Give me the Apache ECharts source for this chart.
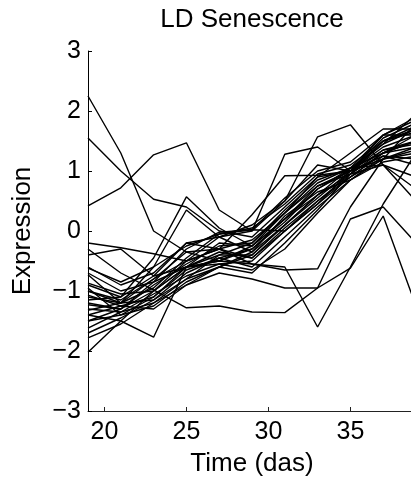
<!DOCTYPE html>
<html>
<head>
<meta charset="utf-8">
<script src="https://cdn.jsdelivr.net/npm/echarts@6/dist/echarts.min.js"></script>
<style>
html,body{margin:0;padding:0;overflow:hidden;background:#fff;}
#chart{width:420px;height:489px;}
</style>
</head>
<body>
<div id="chart"></div>
<script>
const days = [19, 21, 23, 25, 27, 29, 31, 33, 35, 37, 39];
const xTicks = [20, 25, 30, 35];

const gene01 = [2.25, 1.3, 0.0, -0.35, -0.3, -0.15, 0.3, 0.8, 1.05, 1.3, 1.5];
const gene02 = [1.55, 1.0, 0.53, 0.4, 0.0, -0.1, 0.4, 0.9, 1.0, 1.4, 1.6];
const gene03 = [0.42, 0.72, 1.27, 1.47, 0.35, 0.0, 0.5, 1.1, 1.0, 1.2, 1.8];
const gene04 = [-0.9, -1.1, -0.45, 0.57, 0.05, -0.25, 0.2, 0.75, 0.95, 1.5, 1.7];
const gene05 = [-1.1, -1.2, -0.6, 0.35, -0.1, -0.35, 0.1, 0.6, 1.05, 1.6, 1.9];
const gene06 = [-1.4, -1.5, -1.77, -0.6, -0.35, -0.45, 0.0, 0.5, 0.9, 1.3, 1.5];
const gene07 = [-0.3, -0.7, -0.98, -1.28, -1.25, -1.35, -1.36, -0.95, -0.62, 0.25, -1.25];
const gene08 = [-0.2, -0.28, -0.38, -0.5, -0.3, -0.55, -0.6, -1.6, -0.6, 0.45, 1.3];
const gene09 = [-1.0, -1.2, -0.8, -0.5, -0.1, 0.1, 0.5, 1.57, 1.77, 1.1, 0.7];
const gene10 = [-0.6, -0.9, -0.7, -0.2, -0.1, 0.0, 1.28, 1.4, 1.0, 1.25, 1.1];
const gene11 = [-1.2, -1.3, -1.0, -0.5, -0.3, 0.27, 0.92, 0.93, 1.0, 1.45, 1.7];
const gene12 = [-1.5, -1.4, -1.1, -0.6, -0.4, -0.2, 0.3, 0.9, 1.3, 1.7, 1.7];
const gene13 = [-0.7, -1.0, -0.85, -0.6, -0.5, -0.55, -0.65, -0.63, 0.4, 1.2, 1.4];
const gene14 = [-1.3, -1.35, -1.2, -0.9, -0.7, -0.8, -0.95, -0.95, 0.2, 0.4, -0.2];
const gene15 = [-2.02, -1.5, -1.0, -0.6, -0.5, -0.3, 0.2, 0.6, 0.95, 1.3, 1.6];
const gene16 = [-1.78, -1.55, -1.2, -0.8, -0.6, -0.4, 0.1, 0.55, 1.0, 1.35, 1.5];
const gene17 = [-1.7, -1.45, -1.15, -0.7, -0.45, -0.3, 0.15, 0.7, 1.0, 1.55, 1.8];
const gene18 = [-1.62, -1.35, -1.05, -0.75, -0.55, -0.5, 0.0, 0.45, 0.9, 1.2, 1.3];
const gene19 = [-1.5, -1.3, -0.9, -0.55, -0.25, -0.2, 0.35, 0.85, 1.05, 1.45, 1.95];
const gene20 = [-1.4, -1.25, -1.3, -0.9, -0.6, -0.35, 0.25, 0.65, 0.85, 1.25, 1.2];
const gene21 = [-1.32, -1.2, -0.95, -0.45, -0.05, 0.05, 0.45, 0.95, 1.1, 1.5, 1.75];
const gene22 = [-1.23, -1.3, -0.85, -0.3, -0.02, 0.02, 0.55, 1.0, 1.15, 1.6, 1.85];
const gene23 = [-1.15, -1.1, -0.75, -0.2, -0.3, -0.45, 0.05, 0.5, 0.95, 1.1, 0.9];
const gene24 = [-1.07, -1.25, -1.1, -0.65, -0.45, -0.6, -0.1, 0.4, 0.85, 1.15, 1.25];
const gene25 = [-1.0, -1.15, -0.8, -0.35, -0.5, -0.25, 0.3, 0.75, 1.0, 1.6, 1.6];
const gene26 = [-0.95, -1.4, -1.25, -0.85, -0.6, -0.7, -0.2, 0.35, 0.95, 1.35, 1.45];
const gene27 = [-0.87, -1.05, -1.0, -0.6, -0.2, -0.25, 0.2, 0.7, 1.05, 1.1, 0.5];
const gene28 = [-0.73, -1.2, -1.15, -0.8, -0.4, -0.4, 0.1, 0.6, 0.9, 1.3, 1.4];
const gene29 = [-0.62, -0.85, -0.6, -0.25, -0.05, 0.02, 0.0, 0.45, 1.0, 1.5, 1.65];
const gene30 = [-0.4, -0.3, -0.75, -0.6, -0.55, -0.65, -0.3, 0.3, 0.85, 1.2, 1.35];

const genes = [gene01, gene02, gene03, gene04, gene05, gene06, gene07, gene08, gene09, gene10,
  gene11, gene12, gene13, gene14, gene15, gene16, gene17, gene18, gene19, gene20,
  gene21, gene22, gene23, gene24, gene25, gene26, gene27, gene28, gene29, gene30];

const FONT = '"Liberation Sans", Arial, Helvetica, sans-serif';
const chart = echarts.init(document.getElementById('chart'), null, {renderer: 'canvas'});

chart.setOption({
  animation: false,
  backgroundColor: '#fff',
  title: {
    text: 'LD Senescence',
    left: 252,
    textAlign: 'center',
    top: 7,
    padding: 0,
    textStyle: {fontFamily: FONT, fontSize: 26, fontWeight: 'normal', color: '#000'}
  },
  grid: {left: 88, top: 51, width: 328, height: 360, containLabel: false},
  xAxis: {
    type: 'value',
    min: 19, max: 39,
    name: 'Time (das)',
    nameLocation: 'middle',
    nameGap: 40,
    nameTextStyle: {fontFamily: FONT, fontSize: 26, color: '#000'},
    axisLine: {show: true, onZero: false, lineStyle: {color: '#222', width: 1}},
    axisTick: {show: true, inside: true, length: 4, customValues: xTicks, lineStyle: {color: '#222'}},
    axisLabel: {show: true, customValues: xTicks, margin: 9, fontFamily: FONT, fontSize: 25, color: '#000'},
    splitLine: {show: false}
  },
  yAxis: {
    type: 'value',
    min: -3, max: 3, interval: 1,
    name: 'Expression',
    nameLocation: 'middle',
    nameGap: 52,
    nameTextStyle: {fontFamily: FONT, fontSize: 26, color: '#000'},
    axisLine: {show: true, onZero: false, lineStyle: {color: '#000', width: 1}},
    axisTick: {show: true, inside: true, length: 4, lineStyle: {color: '#000'}},
    axisLabel: {
      margin: 7, fontFamily: FONT, fontSize: 25, color: '#000',
      formatter: v => (v < 0 ? '\u2212' + Math.abs(v) : String(v))
    },
    splitLine: {show: false}
  },
  series: genes.map((g, i) => ({
    name: 'gene' + (i + 1),
    type: 'line',
    data: days.map((d, j) => [d, g[j]]),
    symbol: 'none',
    clip: true,
    lineStyle: {color: '#000', width: 1.4},
    emphasis: {disabled: true},
    silent: true
  }))
});
</script>
</body>
</html>
